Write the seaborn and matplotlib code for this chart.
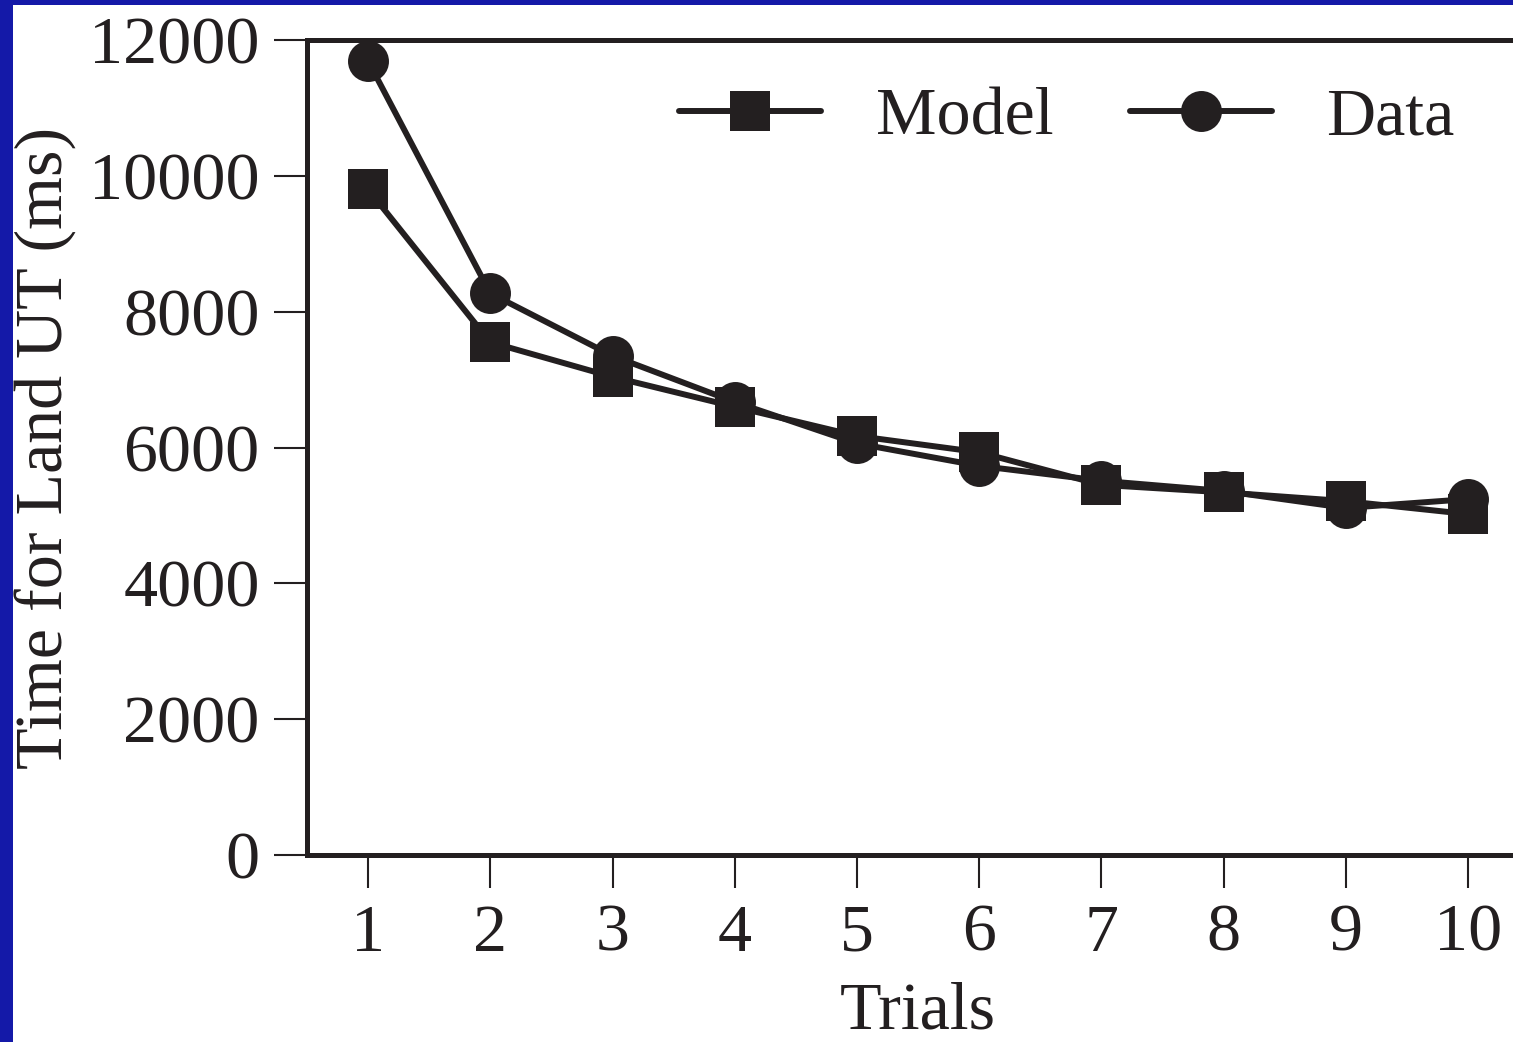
import matplotlib
matplotlib.use("Agg")
import matplotlib.pyplot as plt
from matplotlib.patches import Rectangle
import seaborn as sns
import pandas as pd

trials = [1, 2, 3, 4, 5, 6, 7, 8, 9, 10]
model_ms = [9800, 7550, 7040, 6600, 6170, 5930, 5450, 5340, 5210, 5020]
data_ms = [11690, 8270, 7350, 6670, 6060, 5730, 5510, 5360, 5110, 5240]
y_ticks = [0, 2000, 4000, 6000, 8000, 10000, 12000]

sns.set_theme(style="ticks")
plt.rcParams["font.family"] = ["Liberation Serif", "DejaVu Serif"]
INK = "#231f20"
BLUE = "#1419a8"
FS = 49

fig = plt.figure(figsize=(15.13, 10.42), dpi=100)
fig.patch.set_facecolor(BLUE)
fig.add_artist(Rectangle((13 / 1513, 0), 1, 1 - 5 / 1042, transform=fig.transFigure,
                         facecolor="white", edgecolor="none", zorder=-10))

ax = fig.add_axes([307 / 1513, (1042 - 855) / 1042, 1222 / 1513, 815 / 1042])
ax.set_facecolor("white")

df = pd.DataFrame({"Trials": trials, "Model": model_ms, "Data": data_ms})

sns.lineplot(data=df, x="Trials", y="Data", ax=ax, color=INK, linewidth=4.3,
             marker="o", markersize=29.5, markeredgewidth=0, label="Data", zorder=3)
sns.lineplot(data=df, x="Trials", y="Model", ax=ax, color=INK, linewidth=4.3,
             marker="s", markersize=29.5, markeredgewidth=0, label="Model", zorder=4)

ax.set_xlim(0.5, 10.5)
ax.set_ylim(0, 12000)
ax.set_xticks(trials)
ax.set_yticks(y_ticks)
ax.tick_params(axis="both", direction="out", length=24, width=1.5, color=INK,
               labelsize=FS, labelcolor=INK)
ax.tick_params(axis="y", pad=10)
ax.tick_params(axis="x", pad=11)

for s in ax.spines.values():
    s.set_linewidth(3.6)
    s.set_color(INK)

ax.set_xlabel("Trials", fontsize=FS, color=INK, labelpad=12)
ax.set_ylabel("Time for Land UT (ms)", fontsize=FS, color=INK, labelpad=9)

h, l = ax.get_legend_handles_labels()
order = [l.index("Model"), l.index("Data")]
leg = ax.legend([h[i] for i in order], [l[i] for i in order], ncol=2, frameon=False,
                fontsize=FS, loc="upper left",
                bbox_to_anchor=(679 / 1513, 1 - 87 / 1042), bbox_transform=fig.transFigure,
                borderpad=0, borderaxespad=0, handlelength=2.09, handletextpad=0.8,
                columnspacing=1.12)
for t in leg.get_texts():
    t.set_color(INK)

fig.savefig("out.png", dpi=100, facecolor=fig.get_facecolor())
